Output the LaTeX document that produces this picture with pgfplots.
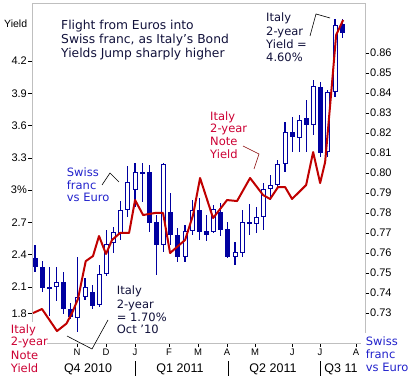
\documentclass[border=0pt]{standalone}
\usepackage{fontspec}
\setmainfont{DejaVu Sans}
\newfontfamily\lib{Liberation Sans}
\usepackage{pgfplots}
\usepackage{pgfplotstable}
\pgfplotsset{compat=1.18}
\definecolor{cblue}{HTML}{0000A0}
\definecolor{cred}{HTML}{C00000}
\definecolor{tred}{HTML}{CC0033}
\definecolor{tblue}{HTML}{2222CC}
\definecolor{tdark}{HTML}{10103A}
\definecolor{fgray}{HTML}{BFBFBF}
\newcommand\tickf{\lib\fontsize{11}{13}\selectfont}
\newcommand\monthf{\lib\fontsize{9.5}{11}\selectfont}
\newcommand\quarf{\lib\fontsize{12.5}{14}\selectfont}
\newcommand\titf{\fontsize{12.3}{14}\selectfont}
\newcommand\annf{\fontsize{11.5}{13}\selectfont}
\pgfplotsset{
  candle/.style={only marks, mark=*, mark size=0pt, mark options={draw=none, fill=none},
    error bars/.cd, y dir=plus, y explicit, error mark=none},
}

\pgfplotstableread{
i lo bl bh hi
0 0.7505 0.7530 0.7575 0.7640
1 0.7405 0.7425 0.7530 0.7560
2 0.7285 0.7420 0.7430 0.7530
4 0.7295 0.7320 0.7455 0.7505
5 0.7270 0.7280 0.7320 0.7350
8 0.7320 0.7335 0.7405 0.7440
15 0.7855 0.7995 0.8005 0.8050
16 0.7705 0.7750 0.8005 0.8040
17 0.7490 0.7640 0.7755 0.7790
19 0.7640 0.7690 0.7805 0.7900
20 0.7555 0.7580 0.7690 0.7725
23 0.7665 0.7705 0.7815 0.7875
24 0.7660 0.7690 0.7710 0.7790
26 0.7685 0.7715 0.7805 0.7850
27 0.7575 0.7580 0.7720 0.7755
30 0.7690 0.7745 0.7755 0.7845
36 0.8105 0.8180 0.8205 0.8280
38 0.8105 0.8240 0.8275 0.8365
40 0.8080 0.8100 0.8430 0.8455
43 0.8675 0.8700 0.8745 0.8770
}\filledtab

\pgfplotstableread{
i lo bl bh hi
3 0.7360 0.7430 0.7455 0.7530
6 0.7205 0.7275 0.7380 0.7580
7 0.7365 0.7380 0.7430 0.7475
9 0.7330 0.7340 0.7495 0.7540
10 0.7485 0.7495 0.7645 0.7715
11 0.7600 0.7650 0.7705 0.7730
12 0.7665 0.7695 0.7815 0.7860
13 0.7780 0.7815 0.7955 0.8035
14 0.7830 0.7915 0.8005 0.8050
18 0.7605 0.7640 0.8045 0.8050
21 0.7555 0.7580 0.7710 0.7740
22 0.7690 0.7710 0.7815 0.7865
25 0.7700 0.7705 0.7820 0.7840
28 0.7540 0.7580 0.7605 0.7655
29 0.7580 0.7600 0.7755 0.7815
31 0.7700 0.7745 0.7780 0.7830
32 0.7715 0.7780 0.7920 0.7950
33 0.7865 0.7920 0.7940 0.7990
34 0.7925 0.7940 0.8045 0.8065
35 0.8005 0.8045 0.8205 0.8255
37 0.8105 0.8175 0.8265 0.8290
39 0.8190 0.8240 0.8435 0.8465
41 0.8080 0.8105 0.8405 0.8415
42 0.8380 0.8405 0.8740 0.8770
}\hollowtab

\pgfplotstableread{
x y
-0.28 1.858
0.98 1.896
3.08 1.691
4.40 1.760
5.18 1.858
6.02 1.990
7.10 2.340
8.12 2.388
8.96 2.574
9.94 2.407
10.78 2.537
11.90 2.602
13.17 2.602
14.01 2.908
15.13 2.769
16.81 2.788
17.93 2.788
18.91 2.416
20.03 2.481
21.01 2.537
22.13 2.769
23.11 3.113
24.93 2.741
26.89 2.908
28.29 2.899
30.11 3.113
31.93 2.955
32.91 2.918
34.03 3.029
35.01 3.029
35.99 2.918
37.96 3.048
38.94 3.354
39.92 3.066
40.62 3.262
41.32 3.791
42.16 4.442
43.14 4.581
}\italytab

\begin{document}
\begin{tikzpicture}[x=1pt,y=1pt]
\path (0,0) rectangle (411,376);
\begin{axis}[
  at={(32pt,33pt)}, anchor=south west, scale only axis,
  width=333pt, height=340pt,
  xmin=-0.42, xmax=46.2, ymin=0.715, ymax=0.885,
  axis line style={draw=fgray, line width=0.8pt},
  tick align=outside, major tick length=4pt,
  tick style={black, line width=0.6pt},
  ytick={0.73,0.74,0.75,0.76,0.77,0.78,0.79,0.80,0.81,0.82,0.83,0.84,0.85,0.86},
  yticklabels={0.73,0.74,0.75,0.76,0.77,0.78,0.79,0.80,0.81,0.82,0.83,0.84,0.85,0.86},
  ytick pos=right, yticklabel pos=right,
  yticklabel style={font=\tickf, inner sep=1pt, text=black},
  xtick={5.88,9.94,14.0,18.77,22.83,26.9,30.8,36.0,39.9,44.96},
  xticklabels={N,D,J,F,M,A,M,J,J,A},
  xtick pos=left,
  xticklabel style={font=\monthf, inner sep=1pt, yshift=-1pt},
]
% wicks
\addplot[candle, error bar style={draw=cblue, line width=1.2pt}]
  table[x=i, y=lo, y error plus expr=\thisrow{hi}-\thisrow{lo}] {\filledtab};
\addplot[candle, error bar style={draw=cblue, line width=1.2pt}]
  table[x=i, y=lo, y error plus expr=\thisrow{hi}-\thisrow{lo}] {\hollowtab};
% filled bodies
\addplot[candle, error bar style={draw=cblue, line width=5pt}]
  table[x=i, y=bl, y error plus expr=\thisrow{bh}-\thisrow{bl}] {\filledtab};
% hollow bodies
\addplot[candle, error bar style={draw=cblue, line width=5pt}]
  table[x=i, y=bl, y error plus expr=\thisrow{bh}-\thisrow{bl}] {\hollowtab};
\addplot[candle, error bar style={draw=white, line width=3pt}]
  table[x=i, y expr=\thisrow{bl}+0.0006, y error plus expr=\thisrow{bh}-\thisrow{bl}-0.0012] {\hollowtab};
\end{axis}
\begin{axis}[
  at={(32pt,33pt)}, anchor=south west, scale only axis,
  width=333pt, height=340pt,
  xmin=-0.42, xmax=46.2, ymin=1.580, ymax=4.739,
  axis line style={draw=fgray, line width=0.8pt},
  tick align=outside, major tick length=4pt,
  tick style={black, line width=0.6pt},
  ytick={1.855,2.1,2.4,2.7,3.0,3.3,3.6,3.9,4.2},
  yticklabels={1.8,2.1,2.4,2.7,3\%,3.3,3.6,3.9,4.2},
  ytick pos=left,
  yticklabel style={font=\tickf, inner sep=1pt, text=black},
  xtick=\empty,
]
\addplot[cred, line width=2pt, line join=round] table[x=x, y=y] {\italytab};
\end{axis}
% corner cover-ups
\fill[white] (0,0) rectangle (47,54);
\fill[white] (361,0) rectangle (411,43);
% quarter labels
\node[font=\quarf, anchor=base, inner sep=0] at (88,3) {Q4 2010};
\node[font=\quarf, anchor=base, inner sep=0] at (180,3) {Q1 2011};
\node[font=\quarf, anchor=base, inner sep=0] at (273,3) {Q2 2011};
\node[font=\quarf, anchor=base, inner sep=0] at (341,3) {Q3 11};
\draw[black, line width=0.8pt] (135,0) -- (135,15);
\draw[black, line width=0.8pt] (228,0) -- (228,15);
\draw[black, line width=0.8pt] (320,0) -- (320,15);
% Yield axis label
\node[font=\lib\fontsize{10.5}{12}\selectfont, anchor=base west, inner sep=0] at (4,348.7) {Yield};
% title
\node[font=\titf, text=tdark, anchor=base west, inner sep=0] at (61,346.7) {Flight from Euros into};
\node[font=\titf, text=tdark, anchor=base west, inner sep=0] at (61,332.7) {Swiss franc, as Italy's Bond};
\node[font=\titf, text=tdark, anchor=base west, inner sep=0] at (61,318.7) {Yields Jump sharply higher};
% top-right annotation
\node[font=\annf, text=tdark, anchor=base west, inner sep=0] at (266,354) {Italy};
\node[font=\annf, text=tdark, anchor=base west, inner sep=0] at (266,340.5) {2-year};
\node[font=\annf, text=tdark, anchor=base west, inner sep=0] at (266,327) {Yield =};
\node[font=\annf, text=tdark, anchor=base west, inner sep=0] at (266,314) {4.60\%};
\draw[black, line width=0.6pt] (310,340) -- (316,362) -- (330,358);
% red in-plot annotation
\node[font=\annf, text=tred, anchor=base west, inner sep=0] at (210,255.5) {Italy};
\node[font=\annf, text=tred, anchor=base west, inner sep=0] at (210,243) {2-year};
\node[font=\annf, text=tred, anchor=base west, inner sep=0] at (210,230) {Note};
\node[font=\annf, text=tred, anchor=base west, inner sep=0] at (210,217.3) {Yield};
\draw[cred!70!black, line width=0.6pt] (243,230) -- (259,222) -- (254,207);
% blue in-plot annotation
\node[font=\annf, text=tblue, anchor=base west, inner sep=0] at (66.7,199.3) {Swiss};
\node[font=\annf, text=tblue, anchor=base west, inner sep=0] at (66.7,186.7) {franc};
\node[font=\annf, text=tblue, anchor=base west, inner sep=0] at (66.7,174.3) {vs Euro};
\draw[black, line width=0.6pt] (102,191) -- (110,203) -- (119,194);
% bottom annotation
\node[font=\annf, text=tdark, anchor=base west, inner sep=0] at (116.7,81) {Italy};
\node[font=\annf, text=tdark, anchor=base west, inner sep=0] at (116.7,67.7) {2-year};
\node[font=\annf, text=tdark, anchor=base west, inner sep=0] at (116.7,54.3) {= 1.70\%};
\node[font=\annf, text=tdark, anchor=base west, inner sep=0] at (116.7,42) {Oct '10};
\draw[black, line width=0.6pt] (67,40) -- (92,27) -- (108,56);
% bottom-left red legend
\node[font=\annf, text=tred, anchor=base west, inner sep=0] at (10.7,42) {Italy};
\node[font=\annf, text=tred, anchor=base west, inner sep=0] at (10.7,30) {2-year};
\node[font=\annf, text=tred, anchor=base west, inner sep=0] at (10.7,16.5) {Note};
\node[font=\annf, text=tred, anchor=base west, inner sep=0] at (10.7,3.5) {Yield};
% bottom-right blue legend
\node[font=\annf, text=tblue, anchor=base west, inner sep=0] at (365.7,30) {Swiss};
\node[font=\annf, text=tblue, anchor=base west, inner sep=0] at (365.7,17) {franc};
\node[font=\annf, text=tblue, anchor=base west, inner sep=0] at (365.7,4) {vs Euro};
\end{tikzpicture}
\end{document}
